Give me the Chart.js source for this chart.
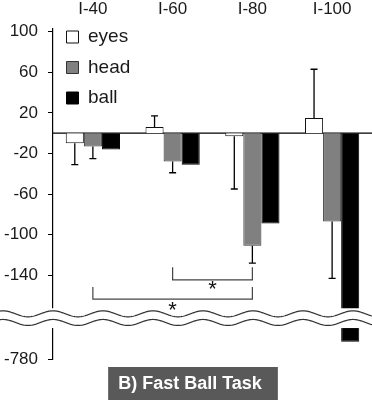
<!DOCTYPE html>
<html>
<head>
<meta charset="utf-8">
<script src="https://cdn.jsdelivr.net/npm/chart.js@4"></script>
<style>
  html, body { margin: 0; padding: 0; background: #fff; }
  #wrap { width: 372px; height: 400px; }
</style>
</head>
<body>
<div id="wrap"><canvas id="chart"></canvas></div>
<script>
const categories = ['I-40', 'I-60', 'I-80', 'I-100'];
const eyes = [-10, 6, -3, 15];
const head = [-13, -28, -111, -87];
const ball = [-16, -31, -89, -763];
// one-sided error bars, value at the end of the whisker
const eyesErr = [-31, 17, -55, 63];
const headErr = [-25, -39, -128, -143];
const yTicks = [100, 60, 20, -20, -60, -100, -140, -780];
// significance brackets between head bars (category indexes)
const sigFrom = [1, 0];
const sigTo = [2, 2];
const sigTop = [-132, -151.5];
const sigBottom = [-144.5, -163.5];
const sigStar = [-150.5, -171];
const titleText = 'B) Fast Ball Task';

const FONT = '"Liberation Sans", Arial, sans-serif';
Chart.defaults.font.family = FONT;
Chart.defaults.color = '#1a1a1a';

// y axis with a break: everything below -400 is moved up under the -140 region
const SHIFT = 557.5;
const toU = v => v < -400 ? v + SHIFT : v;
const fromU = u => u < -200 ? u - SHIFT : u;
class BrokenScale extends Chart.LinearScale {
    getPixelForValue(v) { return super.getPixelForValue(toU(v)); }
    getValueForPixel(p) { return fromU(super.getValueForPixel(p)); }
}
BrokenScale.id = 'broken';
BrokenScale.defaults = Chart.LinearScale.defaults;
Chart.register(BrokenScale);

function wave(ctx, x0, x1, yc, amp) {
    ctx.beginPath();
    for (let x = x0; x <= x1; x += 1) {
        const y = yc - amp * Math.cos(2 * Math.PI * (x - 53) / 50);
        if (x === x0) ctx.moveTo(x, y); else ctx.lineTo(x, y);
    }
    ctx.stroke();
}

const extras = {
    id: 'extras',
    afterLayout(chart) {
        const lg = chart.legend, ca = chart.chartArea;
        lg.top = ca.top - 13;
        lg.bottom = lg.top + ca.height;
        lg.left = ca.left + 2;
        chart.titleBlock.left += 8;
    },
    beforeDraw(chart) {
        const ctx = chart.ctx, tb = chart.titleBlock;
        ctx.save();
        ctx.font = 'bold 18px ' + FONT;
        const w = ctx.measureText(titleText).width + 26;
        const cx = (tb.left + tb.right) / 2 + 3;
        ctx.fillStyle = '#595959';
        ctx.fillRect(cx - w / 2, tb.top + 8, w, tb.bottom - tb.top - 8);
        ctx.restore();
    },
    beforeDatasetsDraw(chart) {
        const ctx = chart.ctx, ca = chart.chartArea;
        const y0 = chart.scales.y.getPixelForValue(0);
        ctx.save();
        ctx.strokeStyle = '#000';
        ctx.lineWidth = 1.2;
        ctx.beginPath();
        ctx.moveTo(ca.left, y0);
        ctx.lineTo(ca.right, y0);
        ctx.stroke();
        ctx.restore();
    },
    afterDatasetsDraw(chart) {
        const ctx = chart.ctx, ys = chart.scales.y;
        ctx.save();
        ctx.strokeStyle = '#000';
        ctx.lineWidth = 1.3;
        [[0, eyesErr], [1, headErr]].forEach(([di, errs]) => {
            chart.getDatasetMeta(di).data.forEach((bar, i) => {
                if (errs[i] == null) return;
                const y2 = ys.getPixelForValue(errs[i]);
                ctx.beginPath();
                ctx.moveTo(bar.x, bar.y);
                ctx.lineTo(bar.x, y2);
                ctx.moveTo(bar.x - 3.5, y2);
                ctx.lineTo(bar.x + 3.5, y2);
                ctx.stroke();
            });
        });
        ctx.restore();
    },
    afterDraw(chart) {
        const ctx = chart.ctx, ys = chart.scales.y;
        const w = chart.width;
        // axis break
        const bTop = ys.getPixelForValue(-172.5);
        const bBot = ys.getPixelForValue(-192);
        ctx.save();
        ctx.fillStyle = '#fff';
        ctx.fillRect(0, bTop, w, bBot - bTop);
        ctx.strokeStyle = '#333';
        ctx.lineWidth = 1.2;
        wave(ctx, 0, w, ys.getPixelForValue(-178), 3);
        wave(ctx, 0, w, ys.getPixelForValue(-186.5), 3);
        // significance brackets
        const heads = chart.getDatasetMeta(1).data;
        ctx.strokeStyle = '#444';
        ctx.lineWidth = 1.2;
        ctx.fillStyle = '#111';
        ctx.font = '22px ' + FONT;
        ctx.textAlign = 'center';
        ctx.textBaseline = 'middle';
        sigFrom.forEach((f, k) => {
            const xa = heads[f].x, xb = heads[sigTo[k]].x;
            const yt = ys.getPixelForValue(sigTop[k]);
            const yb = ys.getPixelForValue(sigBottom[k]);
            ctx.beginPath();
            ctx.moveTo(xa, yt);
            ctx.lineTo(xa, yb);
            ctx.lineTo(xb, yb);
            ctx.lineTo(xb, yt);
            ctx.stroke();
            ctx.fillText('*', (xa + xb) / 2, ys.getPixelForValue(sigStar[k]) + 4);
        });
        ctx.restore();
    }
};

new Chart(document.getElementById('chart'), {
    type: 'bar',
    data: {
        labels: categories,
        datasets: [
            {label: 'eyes', data: eyes, backgroundColor: '#ffffff', borderColor: '#111', borderWidth: 1},
            {label: 'head', data: head, backgroundColor: '#808080', borderColor: '#333', borderWidth: 1},
            {label: 'ball', data: ball, backgroundColor: '#000000', borderColor: '#000', borderWidth: 1}
        ]
    },
    options: {
        responsive: true,
        maintainAspectRatio: false,
        animation: false,
        events: [],
        layout: {padding: 0},
        datasets: {bar: {categoryPercentage: 0.68, barPercentage: 1}},
        scales: {
            x: {
                position: 'top',
                grid: {display: false, drawTicks: false},
                border: {display: false},
                ticks: {font: {size: 17}, padding: 9, color: '#1a1a1a'},
                afterFit: s => { s.height = 29; }
            },
            y: {
                type: 'broken',
                min: -222.5,
                max: 102.66,
                grid: {drawOnChartArea: false, drawTicks: true, tickLength: 5, color: '#000'},
                border: {display: true, color: '#000', width: 1.2},
                ticks: {font: {size: 17}, padding: 10, color: '#1a1a1a', callback: v => String(v)},
                afterBuildTicks: s => { s.ticks = yTicks.map(v => ({value: v})); },
                afterFit: s => { s.width = 53; }
            }
        },
        plugins: {
            legend: {
                position: 'chartArea',
                align: 'start',
                labels: {font: {size: 19}, boxWidth: 12, boxHeight: 12, padding: 11.5, color: '#1a1a1a'}
            },
            title: {
                display: true,
                position: 'bottom',
                text: titleText,
                color: '#ffffff',
                font: {size: 18, weight: 'bold', lineHeight: 1.2},
                padding: {top: 14, bottom: 5.4}
            },
            tooltip: {enabled: false}
        }
    },
    plugins: [extras]
});
</script>
</body>
</html>
